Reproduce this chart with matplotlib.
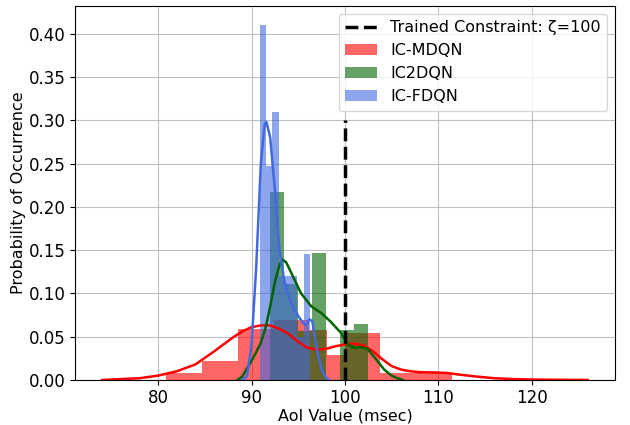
import matplotlib
matplotlib.use("Agg")
import matplotlib.pyplot as plt
import numpy as np

# histogram bins (density)
mdqn_edges = [80.8, 82.7, 84.7, 86.6, 88.5, 90.4, 92.4, 94.3, 96.2, 98.1,
              100.0, 101.9, 103.8, 105.8, 107.7, 109.6, 111.5]
mdqn_heights = [0.0085, 0.0085, 0.022, 0.022, 0.059, 0.059, 0.069, 0.069,
                0.058, 0.029, 0.054, 0.054, 0.0085, 0.0085, 0.0085, 0.0085]

c2dqn_edges = [92.0, 93.5, 95.0, 96.5, 98.0, 99.5, 101.0, 102.5]
c2dqn_heights = [0.217, 0.111, 0.056, 0.147, 0.0, 0.058, 0.065]

fdqn_edges = [90.90, 91.57, 92.24, 92.91, 93.58, 94.25, 94.92, 95.59, 96.26]
fdqn_heights = [0.41, 0.247, 0.31, 0.12, 0.12, 0.12, 0.05, 0.145]

# density curves
mdqn_kde_x = [74, 76, 78, 80, 82, 84, 86, 88, 89, 90, 91, 92, 93, 94, 95, 96,
              97, 98, 99, 100, 101, 102, 103, 104, 105, 106, 107, 108, 109,
              110, 111, 112, 114, 116, 118, 120, 123, 126]
mdqn_kde_y = [0.0, 0.001, 0.002, 0.005, 0.010, 0.018, 0.033, 0.049, 0.056,
              0.061, 0.063, 0.063, 0.059, 0.053, 0.044, 0.037, 0.035, 0.036,
              0.039, 0.041, 0.042, 0.040, 0.033, 0.024, 0.016, 0.012, 0.010,
              0.009, 0.0088, 0.0085, 0.008, 0.0065, 0.004, 0.002, 0.001,
              0.0005, 0.0002, 0.0]

c2dqn_kde_x = [88.5, 89.0, 89.5, 90.0, 90.5, 91.0, 91.5, 92.0, 92.5, 93.0, 93.3,
               93.7, 94.2, 94.6, 95.3, 96.4, 97.5, 98.5, 99.6, 100.3, 101.0,
               101.7, 102.4, 103.1, 104.2, 105.0, 105.6, 106.2]
c2dqn_kde_y = [0.0, 0.004, 0.013, 0.022, 0.032, 0.043, 0.060, 0.085, 0.113,
               0.133, 0.139, 0.136, 0.125, 0.116, 0.100, 0.085, 0.077, 0.067,
               0.054, 0.041, 0.037, 0.038, 0.036, 0.027, 0.012, 0.005, 0.002,
               0.0]

fdqn_kde_x = [89.0, 89.5, 90.0, 90.5, 91.0, 91.4, 91.6, 92.0, 92.5, 93.0, 93.5,
              94.0, 94.5, 95.0, 95.5, 95.8, 96.2, 96.5, 97.0, 97.5, 98.0, 98.3]
fdqn_kde_y = [0.0, 0.004, 0.04, 0.13, 0.25, 0.295, 0.298, 0.28, 0.22, 0.15,
              0.115, 0.095, 0.083, 0.074, 0.066, 0.063, 0.070, 0.068, 0.035,
              0.012, 0.002, 0.0]

constraint = 100
constraint_top = 0.30

fig = plt.figure(figsize=(6.3, 4.25), dpi=100)
ax = fig.add_axes([0.119, 0.106, 0.857, 0.880])


def draw_hist(edges, heights, color, label):
    edges = np.array(edges)
    return ax.bar(edges[:-1], heights, width=np.diff(edges), align="edge",
                  color=color, alpha=0.6, linewidth=0, label=label, zorder=2)


h_red = draw_hist(mdqn_edges, mdqn_heights, "red", "IC-MDQN")
h_green = draw_hist(c2dqn_edges, c2dqn_heights, "darkgreen", "IC2DQN")
h_blue = draw_hist(fdqn_edges, fdqn_heights, "royalblue", "IC-FDQN")

ax.plot(mdqn_kde_x, mdqn_kde_y, color="red", lw=1.8, zorder=3)
ax.plot(c2dqn_kde_x, c2dqn_kde_y, color="darkgreen", lw=1.8, zorder=3)
ax.plot(fdqn_kde_x, fdqn_kde_y, color="royalblue", lw=1.8, zorder=3)

h_line, = ax.plot([constraint, constraint], [0, constraint_top], color="black",
                  ls="--", lw=2.5, label="Trained Constraint: \u03b6=100",
                  zorder=4)

ax.set_xlim(71.1, 128.9)
ax.set_ylim(0, 0.432)
ax.set_xticks([80, 90, 100, 110, 120])
ax.set_yticks(np.arange(0, 0.41, 0.05))
ax.yaxis.set_major_formatter(matplotlib.ticker.FormatStrFormatter("%.2f"))
ax.tick_params(labelsize=12, pad=3)
ax.grid(True, color="#c0c0c0", lw=0.8, zorder=0)
ax.set_axisbelow(True)
ax.set_xlabel("AoI Value (msec)", fontsize=11.5, labelpad=1)
ax.set_ylabel("Probability of Occurrence", fontsize=11.5, labelpad=2)

ax.legend([h_line, h_red, h_green, h_blue],
          ["Trained Constraint: \u03b6=100", "IC-MDQN", "IC2DQN", "IC-FDQN"],
          loc="upper right", fontsize=11.5)

fig.savefig("out.png", dpi=100)
